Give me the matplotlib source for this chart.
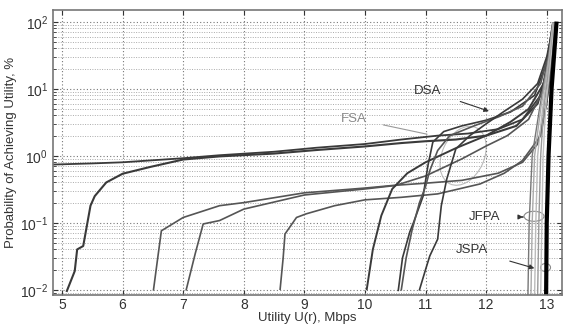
import numpy as np
import matplotlib
matplotlib.use("Agg")
import matplotlib.pyplot as plt
from matplotlib.patches import Ellipse

plt.rcParams["font.family"] = ["Liberation Sans", "DejaVu Sans"]
plt.rcParams["mathtext.fontset"] = "custom"
plt.rcParams["mathtext.rm"] = "Liberation Sans"
plt.rcParams["mathtext.it"] = "Liberation Sans"

# ── Data ────────────────────────────────────────────────────────────────────

x_ticks = [5, 6, 7, 8, 9, 10, 11, 12, 13]

# flat curve entering from the left edge
a_x = [4.85, 5.5, 6.0, 7.0, 7.6, 8.5, 9.2, 10.0, 10.6, 11.2, 11.7, 12.2, 12.6, 12.9, 13.05, 13.12]
a_y = [0.74, 0.77, 0.80, 0.92, 1.02, 1.15, 1.32, 1.5, 1.75, 2.0, 2.15, 2.5, 3.5, 8, 30, 95]

b_x = [5.08, 5.21, 5.25, 5.35, 5.47, 5.54, 5.73, 6.0, 6.45, 7.0, 7.6, 8.5, 9.2, 10.0,
       10.6, 11.0, 11.5, 12.0, 12.5, 12.85, 13.05, 13.12]
b_y = [0.0096, 0.019, 0.04, 0.045, 0.18, 0.25, 0.40, 0.54, 0.68, 0.88, 0.98, 1.08, 1.22,
       1.38, 1.55, 1.65, 1.75, 2.0, 2.8, 6.0, 25, 95]

c_x = [6.51, 6.58, 6.64, 7.0, 7.6, 8.0, 9.0, 10.0, 10.45, 11.0, 11.6, 12.2, 12.6, 12.85, 13.0, 13.1]
c_y = [0.01, 0.03, 0.076, 0.12, 0.18, 0.20, 0.28, 0.33, 0.36, 0.39, 0.43, 0.55, 0.8, 1.5, 6, 60]

d_x = [7.05, 7.2, 7.33, 7.6, 8.0, 9.0, 10.0, 10.5, 11.0, 11.6, 12.0, 12.35, 12.7, 12.95, 13.1]
d_y = [0.01, 0.035, 0.096, 0.108, 0.16, 0.26, 0.32, 0.36, 0.5, 0.9, 1.4, 2.0, 3.5, 10, 80]

e_x = [8.6, 8.65, 8.68, 8.87, 9.03, 9.5, 10.0, 10.6, 11.2, 11.9, 12.3, 12.6, 12.9, 13.05, 13.12]
e_y = [0.0102, 0.03, 0.068, 0.12, 0.136, 0.18, 0.22, 0.24, 0.27, 0.38, 0.55, 0.85, 2.0, 12, 90]

f_x = [10.03, 10.13, 10.27, 10.45, 10.7, 11.0, 11.5, 12.0, 12.4, 12.7, 12.95, 13.1]
f_y = [0.0102, 0.04, 0.128, 0.32, 0.55, 0.8, 1.3, 2.0, 3.2, 5, 12, 90]

g1_x = [10.55, 10.62, 10.74, 10.8, 10.96, 11.04, 11.12, 11.3, 11.6, 12.0, 12.4, 12.8, 13.0, 13.1]
g1_y = [0.0098, 0.03, 0.073, 0.1, 0.25, 0.72, 1.6, 2.3, 2.8, 3.4, 4.5, 8, 25, 95]

g2_x = [10.6, 10.68, 10.78, 10.9, 11.0, 11.07, 11.2, 11.4, 11.8, 12.2, 12.6, 12.9, 13.05, 13.12]
g2_y = [0.01, 0.03, 0.08, 0.2, 0.35, 0.6, 1.2, 2.0, 2.8, 3.8, 5.5, 12, 40, 95]

h_x = [10.9, 11.0, 11.07, 11.2, 11.26, 11.35, 11.5, 11.73, 12.0, 12.28, 12.6, 12.85, 13.0, 13.12]
h_y = [0.01, 0.02, 0.032, 0.057, 0.18, 0.45, 1.27, 2.0, 3.0, 4.5, 7, 12, 30, 95]

# near-vertical JFPA / JSPA curves
j_y = [0.0084, 0.1, 1, 5, 30, 95]
j1_x = [12.69, 12.71, 12.76, 12.88, 13.03, 13.1]
j2_x = [12.74, 12.76, 12.8, 12.9, 13.04, 13.1]
j3_x = [12.80, 12.82, 12.85, 12.93, 13.05, 13.11]
j4_x = [12.85, 12.87, 12.9, 12.95, 13.06, 13.12]
j5_x = [12.90, 12.92, 12.94, 12.98, 13.07, 13.13]
k_x = [12.99, 13.0, 13.03, 13.08, 13.16]
k_y = [0.0084, 0.1, 1, 10, 94]

# ── Plot ────────────────────────────────────────────────────────────────────

fig = plt.figure(figsize=(5.63, 3.24), dpi=100)
ax = fig.add_axes([0.094, 0.09, 0.904, 0.879])
ax.set_yscale("log")
ax.set_xlim(4.85, 13.25)
ax.set_ylim(0.0084, 150)

dark = "#3a3a3a"
mid = "#555555"

ax.plot(a_x, a_y, color=dark, lw=1.3)
ax.plot(b_x, b_y, color=dark, lw=1.5)
ax.plot(c_x, c_y, color=mid, lw=1.2)
ax.plot(d_x, d_y, color=mid, lw=1.2)
ax.plot(e_x, e_y, color=mid, lw=1.2)
ax.plot(f_x, f_y, color=dark, lw=1.4)
ax.plot(g1_x, g1_y, color=dark, lw=1.2)
ax.plot(g2_x, g2_y, color=mid, lw=1.2)
ax.plot(h_x, h_y, color=dark, lw=1.2)

for jx, col in [(j1_x, "#777777"), (j2_x, "#aaaaaa"), (j3_x, "#bbbbbb"),
                (j4_x, "#999999"), (j5_x, "#c0c0c0")]:
    ax.plot(jx, j_y, color=col, lw=1.0)
ax.plot(k_x, k_y, color="black", lw=3.0)

# grid, MATLAB style
ax.grid(True, which="major", linestyle=(0, (1, 2)), color="#777777", lw=0.8)
ax.grid(True, which="minor", axis="y", linestyle=(0, (1, 1.5)), color="#aaaaaa", lw=0.7)
ax.set_xticks(x_ticks)
ax.tick_params(which="both", direction="in", top=True, right=True,
               labelsize=10, colors="#333333")
ax.tick_params(axis="x", pad=2)
ax.tick_params(axis="x", which="minor", bottom=False, top=False)
for s in ax.spines.values():
    s.set_color("#777777")
    s.set_linewidth(1.2)

ax.set_xlabel("Utility U(r), Mbps", fontsize=9.5, color="#333333", labelpad=0)
ax.set_ylabel("Probability of Achieving Utility, %", fontsize=9.5,
              color="#333333", labelpad=2)

# annotations
ax.annotate("DSA", xy=(12.09, 4.5), xytext=(11.04, 9.4), fontsize=9.5,
            color="#333333", ha="center", va="center",
            arrowprops=dict(arrowstyle="-|>", color="#333333", lw=0.8,
                            mutation_scale=7, shrinkA=12))
ax.annotate("FSA", xy=(11.07, 2.06), xytext=(9.82, 3.58), fontsize=9.5,
            color="#888888", ha="center", va="center",
            arrowprops=dict(arrowstyle="-", color="#999999", lw=0.8, shrinkA=10))
ax.annotate("JFPA", xy=(12.61, 0.122), xytext=(11.98, 0.122), fontsize=9.5,
            color="#333333", ha="center", va="center",
            arrowprops=dict(arrowstyle="-|>", color="#333333", lw=0.8,
                            mutation_scale=7, shrinkA=14))
ax.annotate("JSPA", xy=(12.84, 0.0204), xytext=(11.77, 0.039), fontsize=9.5,
            color="#333333", ha="center", va="center",
            arrowprops=dict(arrowstyle="-|>", color="#333333", lw=0.8,
                            mutation_scale=7, shrinkA=14))

# highlight ellipses (drawn in pixel units)
trans = ax.transData
for (cx, cy, w, h, ang, col) in [(12.79, 0.125, 20, 10, 0, "#888888"),
                                  (12.98, 0.0215, 10, 8, 0, "#888888"),
                                  (11.62, 1.0, 42, 62, -25, "#bbbbbb")]:
    px, py = trans.transform((cx, cy))
    e = Ellipse((px, py), w, h, angle=ang, fill=False, edgecolor=col, lw=0.8,
                transform=None)
    ax.add_artist(e)

fig.savefig("out.png", dpi=100)
